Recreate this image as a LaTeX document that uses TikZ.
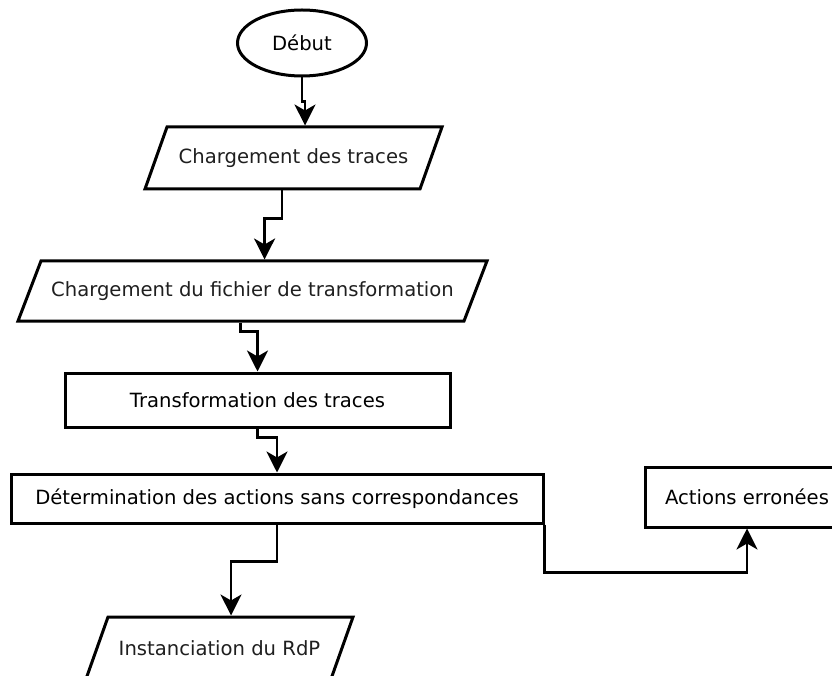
\documentclass[tikz,border=0pt]{standalone}
\usepackage{fontspec}
\setmainfont{DejaVu Sans}
\usetikzlibrary{arrows.meta,shapes.geometric}
\begin{document}
\begin{tikzpicture}[x=1pt,y=-1pt,
  every node/.style={font=\fontsize{19.6}{23}\selectfont, inner sep=0pt},
  outline/.style={draw=black, line width=3pt, fill=white},
  slanted/.style={outline, rectangle, xslant=#1},
  txt/.style={text=black!88},
  conn/.style={line width=2.7pt, -{Stealth[length=21pt,width=21pt,inset=6pt]}}
]
\useasboundingbox (0,0) rectangle (832,676);
\fill[white] (0,0) rectangle (832,676);
\clip (0,0) rectangle (832,676);

% start
\node[outline, ellipse, minimum width=129pt, minimum height=66pt] (deb) at (302,43) {Début};

% input steps (parallelograms)
\node[slanted=0.355, minimum width=275pt, minimum height=62pt] (p1) at (293.5,158) {};
\node[txt] at (p1.center) {Chargement des traces};

\node[slanted=0.383, minimum width=446pt, minimum height=60pt] (p2) at (252.5,291) {};
\node[txt] at (p2.center) {Chargement du fichier de transformation};

% processing steps
\node[outline, minimum width=385pt, minimum height=54pt] (t) at (257.5,400) {Transformation des traces};
\node[outline, minimum width=532pt, minimum height=49pt] (d) at (277,498.5) {Détermination des actions sans correspondances};
\node[outline, minimum width=204pt, minimum height=60pt] (err) at (747,497) {Actions erronées};

% output
\node[slanted=0.355, minimum width=245pt, minimum height=62pt] (inst) at (219.5,648) {};
\node[txt] at (inst.center) {Instanciation du RdP};

% connectors
\draw[conn] (deb.south) -- ++(0,24) -| (p1.north);
\draw[conn] (p1.south) -- ++(0,28) -| (p2.north);
\draw[conn] (p2.south) -- ++(0,9) -| (t.north);
\draw[conn] (t.south) -- ++(0,9) -| (d.north);
\draw[conn] (d.south) -- ++(0,37) -| (inst.north);
\draw[conn] (d.south east) -- ++(0,48) -| (err.south);
\end{tikzpicture}
\end{document}
